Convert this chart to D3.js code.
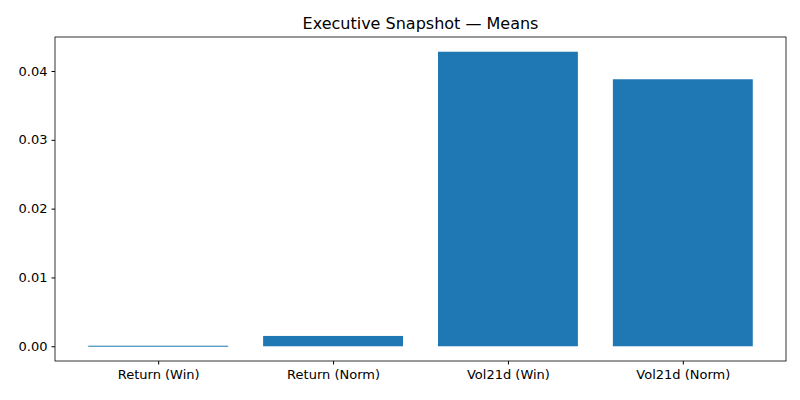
<!DOCTYPE html>
<html>
<head>
<meta charset="utf-8">
<script src="https://cdn.jsdelivr.net/npm/d3@7"></script>
<style>
  body { margin: 0; background: #fff; }
  text { font-family: "DejaVu Sans", sans-serif; }
</style>
</head>
<body>
<div id="chart"></div>
<script>
// chart data
var categories = ["Return (Win)", "Return (Norm)", "Vol21d (Win)", "Vol21d (Norm)"];
var means = [0.00008, 0.0015, 0.0428, 0.0388];
var yTicks = [0, 0.01, 0.02, 0.03, 0.04];

var W = 800, H = 400;
var margin = {top: 37, right: 14, bottom: 39, left: 55},
    w = W - margin.left - margin.right,
    h = H - margin.top - margin.bottom;

var svg = d3.select("#chart").append("svg")
    .attr("width", W).attr("height", H);
var g = svg.append("g")
    .attr("transform", `translate(${margin.left},${margin.top})`);

// matplotlib-like margins: bars of width 0.8 around integer positions
var x = d3.scaleLinear().domain([-0.59, categories.length - 1 + 0.59]).range([0, w]);
var ymax = d3.max(means), ymin = 0;
var pad = (ymax - ymin) * 0.05;
var y = d3.scaleLinear().domain([ymin - pad, ymax + pad]).range([h, 0]);

// bars
g.selectAll(".bar")
  .data(means)
  .enter()
  .append("rect")
  .attr("class", "bar")
  .attr("x", (d, i) => x(i - 0.4))
  .attr("width", (d, i) => x(i + 0.4) - x(i - 0.4))
  .attr("y", d => y(Math.max(d, 0)))
  .attr("height", d => Math.max(1, Math.abs(y(d) - y(0))))
  .attr("fill", "#1f77b4");

// y axis
var yAxis = d3.axisLeft(y).tickValues(yTicks).tickFormat(d3.format(".2f")).tickSizeOuter(0).tickSize(3.5).tickPadding(4);
g.append("g").call(yAxis)
  .call(s => s.select(".domain").remove())
  .selectAll("text").style("font-size", "13px").attr("fill", "#000");

// x axis
var xAxis = d3.axisBottom(x).tickValues(d3.range(categories.length))
  .tickFormat(i => categories[i]).tickSizeOuter(0).tickSize(3.5).tickPadding(5);
g.append("g").attr("transform", `translate(0,${h})`).call(xAxis)
  .call(s => s.select(".domain").remove())
  .selectAll("text").style("font-size", "13px").attr("fill", "#000");

// frame
g.append("rect").attr("width", w).attr("height", h)
  .attr("fill", "none").attr("stroke", "#000").attr("stroke-width", 0.8);

// title
svg.append("text")
  .attr("x", margin.left + w / 2)
  .attr("y", margin.top - 8)
  .attr("text-anchor", "middle")
  .style("font-size", "16px")
  .text("Executive Snapshot — Means");
</script>
</body>
</html>
